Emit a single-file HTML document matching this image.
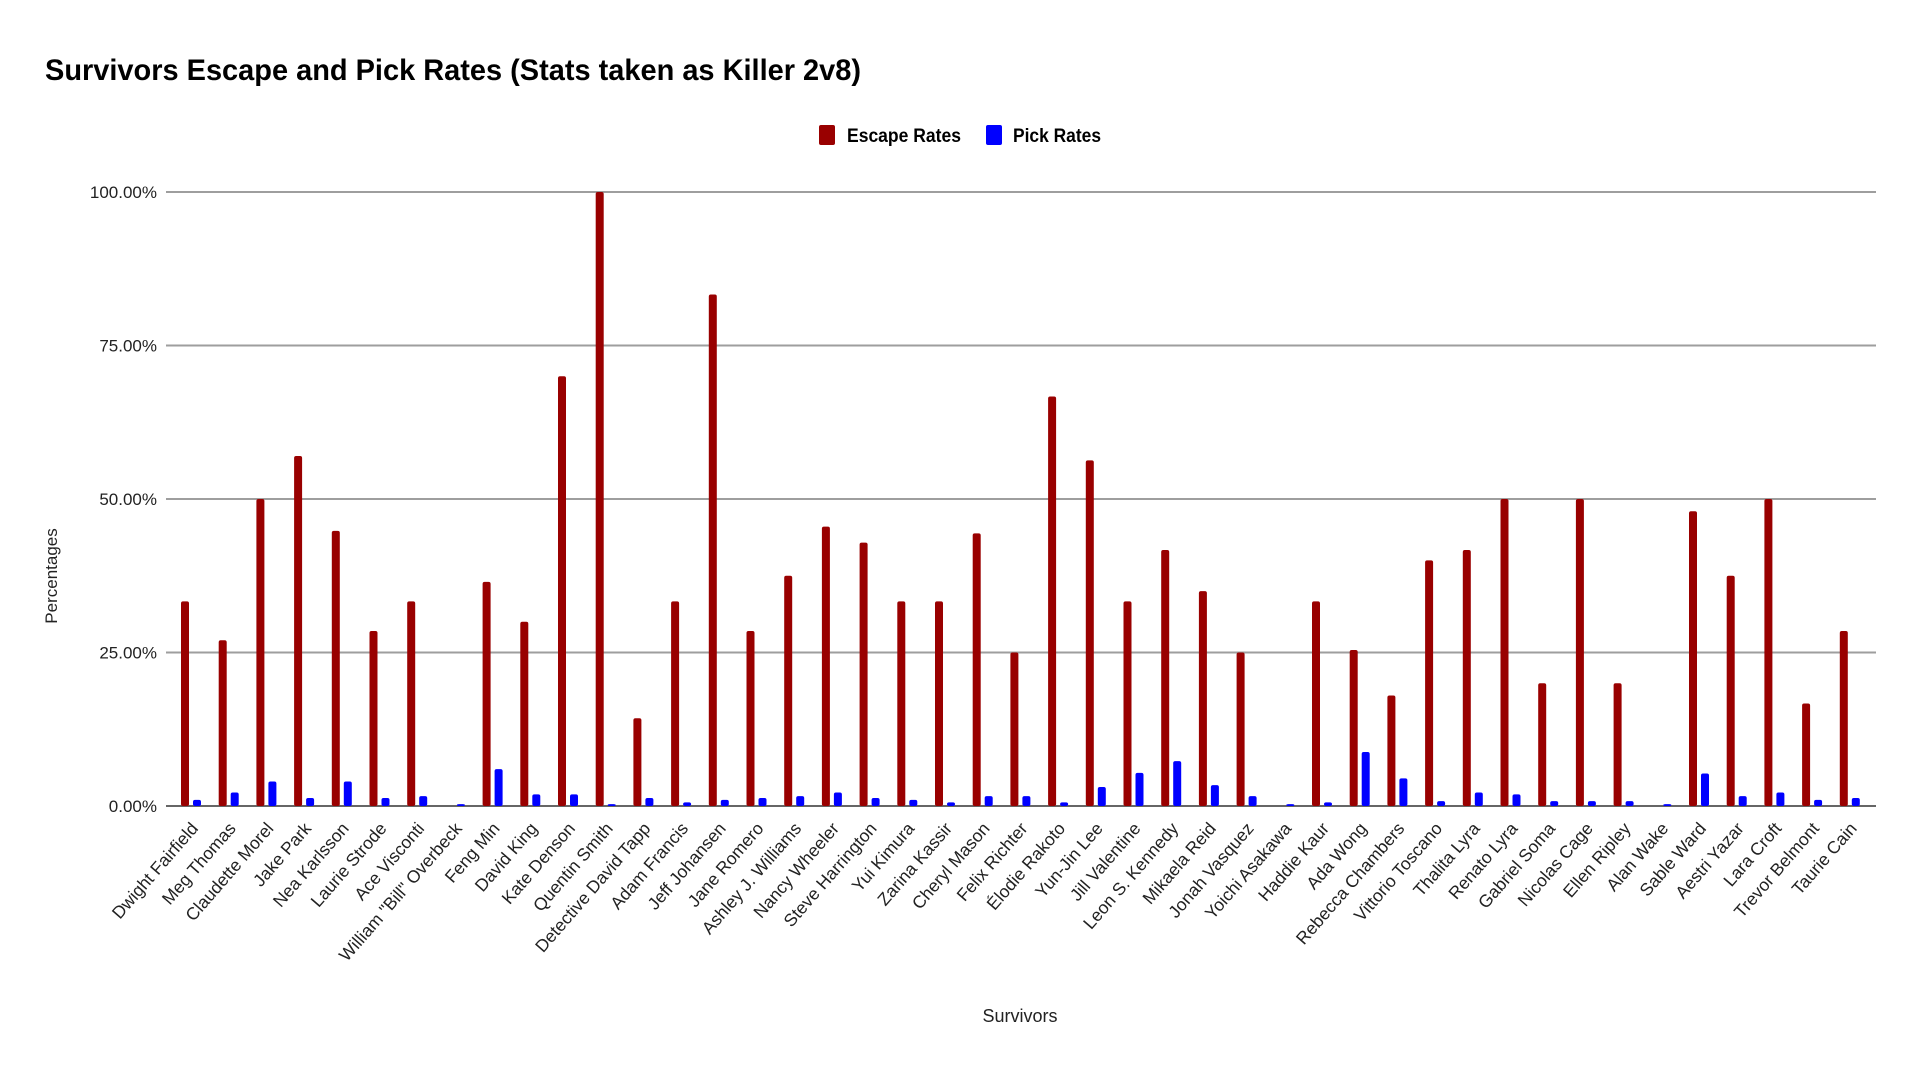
<!DOCTYPE html>
<html><head><meta charset="utf-8"><style>
html,body{margin:0;padding:0;background:#fff;}
svg{display:block;font-family:"Liberation Sans",sans-serif;}
</style></head><body>
<svg id="chart" width="1920" height="1080" viewBox="0 0 1920 1080">
<text x="45" y="80" font-size="30" font-weight="bold" fill="#000" textLength="816" lengthAdjust="spacingAndGlyphs">Survivors Escape and Pick Rates (Stats taken as Killer 2v8)</text>
<g>
<rect x="819" y="125" width="16" height="20" rx="2" fill="#990000"/>
<text x="847" y="142" font-size="19" font-weight="bold" textLength="114" lengthAdjust="spacingAndGlyphs">Escape Rates</text>
<rect x="986" y="125" width="16" height="20" rx="2" fill="#0000ff"/>
<text x="1013" y="142" font-size="19" font-weight="bold" textLength="88" lengthAdjust="spacingAndGlyphs">Pick Rates</text>
</g>
<g id="grid"></g><g id="bars"></g><g id="xlabels"></g>
<text transform="translate(57,576) rotate(-90)" text-anchor="middle" font-size="17" fill="#222">Percentages</text>
<text x="1020" y="1022" text-anchor="middle" font-size="18" fill="#222">Survivors</text>
</svg>
<script>
const categories=["Dwight Fairfield","Meg Thomas","Claudette Morel","Jake Park","Nea Karlsson","Laurie Strode","Ace Visconti","William \"Bill\" Overbeck","Feng Min","David King","Kate Denson","Quentin Smith","Detective David Tapp","Adam Francis","Jeff Johansen","Jane Romero","Ashley J. Williams","Nancy Wheeler","Steve Harrington","Yui Kimura","Zarina Kassir","Cheryl Mason","Felix Richter","Élodie Rakoto","Yun-Jin Lee","Jill Valentine","Leon S. Kennedy","Mikaela Reid","Jonah Vasquez","Yoichi Asakawa","Haddie Kaur","Ada Wong","Rebecca Chambers","Vittorio Toscano","Thalita Lyra","Renato Lyra","Gabriel Soma","Nicolas Cage","Ellen Ripley","Alan Wake","Sable Ward","Aestri Yazar","Lara Croft","Trevor Belmont","Taurie Cain"];
const escapeRates=[33.33,27,50,57,44.8,28.5,33.33,0,36.5,30,70,100,14.3,33.33,83.3,28.5,37.5,45.5,42.9,33.33,33.33,44.4,25,66.7,56.3,33.33,41.7,35,25,0,33.33,25.4,18,40,41.7,50,20,50,20,0,48,37.5,50,16.7,28.5];
const pickRates=[1.0,2.2,4,1.3,4,1.3,1.6,0.3,6,1.9,1.9,0.3,1.3,0.6,1.0,1.3,1.6,2.2,1.3,1.0,0.6,1.6,1.6,0.6,3.1,5.4,7.3,3.4,1.6,0.3,0.6,8.8,4.5,0.8,2.2,1.9,0.8,0.8,0.8,0.3,5.3,1.6,2.2,1.0,1.3];
const yTicks=[0,25,50,75,100];
const yTickLabels=["0.00%","25.00%","50.00%","75.00%","100.00%"];
const NS="http://www.w3.org/2000/svg";
const X0=166,X1=1876,Y0=806,Y1=192;
const step=37.7;
function xCenter(i){return 185+step*i;}
function yScale(v){return Y0-(v/100)*(Y0-Y1);}
function mk(tag,attrs,parent){const e=document.createElementNS(NS,tag);for(const k in attrs)e.setAttribute(k,attrs[k]);parent.appendChild(e);return e;}
const grid=document.getElementById('grid'),bars=document.getElementById('bars'),xl=document.getElementById('xlabels');
yTicks.forEach((t,i)=>{
  const y=yScale(t);
  const ln=mk('line',{x1:X0,x2:X1,y1:y,y2:y,stroke:t===0?'#666':'#9e9e9e','stroke-width':2},grid);
  
  
  const tx=mk('text',{x:157,y:y+6,'text-anchor':'end','font-size':17,fill:'#222'},grid);
  tx.textContent=yTickLabels[i];
  
  
});
categories.forEach((c,i)=>{
  const cx=xCenter(i);
  const ye=yScale(escapeRates[i]);
  if(escapeRates[i]>0){
    const r=mk('rect',{x:cx-4,y:ye,width:8,height:Y0-ye,rx:2,fill:'#990000'},bars);
    
    
  }
  const yp=yScale(pickRates[i]);
  const b=mk('rect',{x:cx+8,y:yp,width:8,height:Math.max(Y0-yp,1),rx:2,fill:'#0000ff'},bars);
  
  
  const t=mk('text',{'text-anchor':'end','font-size':17.5,fill:'#222',transform:'translate('+(cx+14)+',829) rotate(-49)'},xl);
  t.textContent=c;
  
  
});
</script>
</body></html>
